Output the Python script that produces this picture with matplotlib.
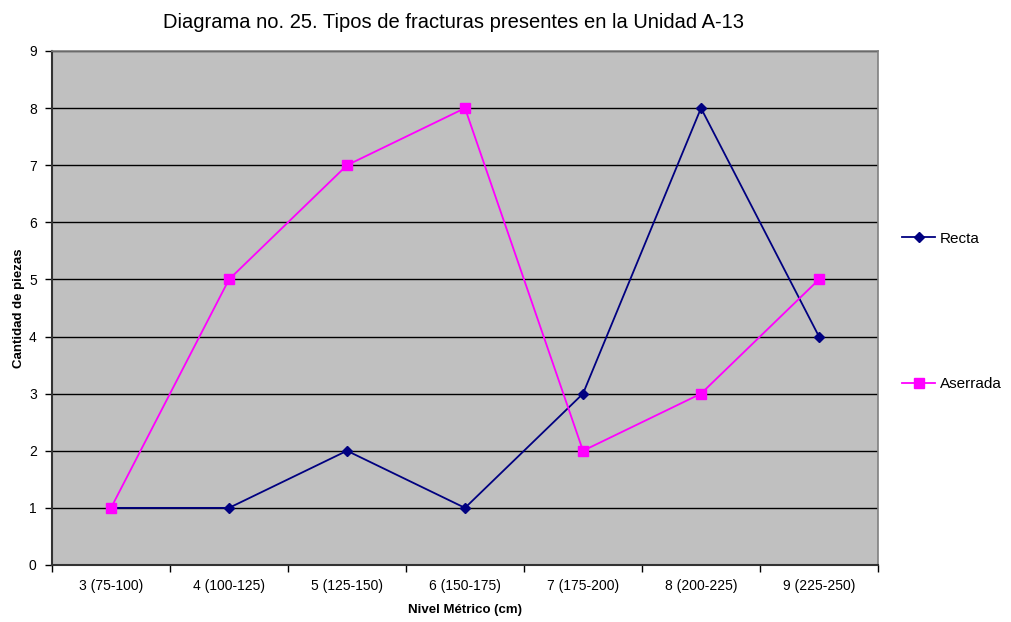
import matplotlib
matplotlib.use("Agg")
import matplotlib.pyplot as plt

plt.rcParams['font.family'] = ['Liberation Sans', 'DejaVu Sans']

categories = ["3 (75-100)", "4 (100-125)", "5 (125-150)", "6 (150-175)",
              "7 (175-200)", "8 (200-225)", "9 (225-250)"]
recta = [1, 1, 2, 1, 3, 8, 4]
aserrada = [1, 5, 7, 8, 2, 3, 5]
yticks = list(range(0, 10))

fig = plt.figure(figsize=(10.12, 6.22), dpi=100)
ax = fig.add_axes([52/1012, 1-565/622, (878-52)/1012, (565-51)/622])
ax.set_facecolor('#C0C0C0')

x = list(range(len(categories)))
ax.plot(x, recta, color='#000080', marker='D', markersize=5.5, lw=1.3, label='Recta', zorder=3)
ax.plot(x, aserrada, color='#FF00FF', marker='s', markersize=7, lw=1.3, label='Aserrada', zorder=4)

ax.set_xlim(-0.5, len(categories) - 0.5)
ax.set_ylim(0, 9)
ax.set_yticks(yticks)
ax.yaxis.grid(True, color='black', lw=1)
ax.set_axisbelow(True)

ax.set_xticks([i - 0.5 for i in range(len(categories) + 1)])
ax.set_xticklabels([])
ax.set_xticks(x, minor=True)
ax.set_xticklabels(categories, minor=True, fontsize=10)
ax.tick_params(axis='x', which='minor', length=0, pad=10)
ax.tick_params(axis='x', which='major', length=5, width=1, color='black')
ax.tick_params(axis='y', length=5, width=1, labelsize=10, pad=6)

for s in ['top', 'right']:
    ax.spines[s].set_color('#808080')
    ax.spines[s].set_linewidth(1.2)
for s in ['left', 'bottom']:
    ax.spines[s].set_color('#333333')
    ax.spines[s].set_linewidth(1.5)

ax.set_xlabel('Nivel Métrico (cm)', fontsize=9.5, fontweight='bold', labelpad=8)
ax.set_ylabel('Cantidad de piezas', fontsize=9.5, fontweight='bold')
ax.yaxis.set_label_coords(-0.0327, 0.5)
fig.suptitle('Diagrama no. 25. Tipos de fracturas presentes en la Unidad A-13',
             x=454/1012, y=1-23/622, va='center', fontsize=14.5)

leg = fig.legend(handles=ax.get_lines(), loc='upper left',
                 bbox_to_anchor=(888/1012, 1-218/622), frameon=False,
                 fontsize=11, labelspacing=8.6, handlelength=2.2, handletextpad=0.3)

fig.savefig('out.png', dpi=100)
